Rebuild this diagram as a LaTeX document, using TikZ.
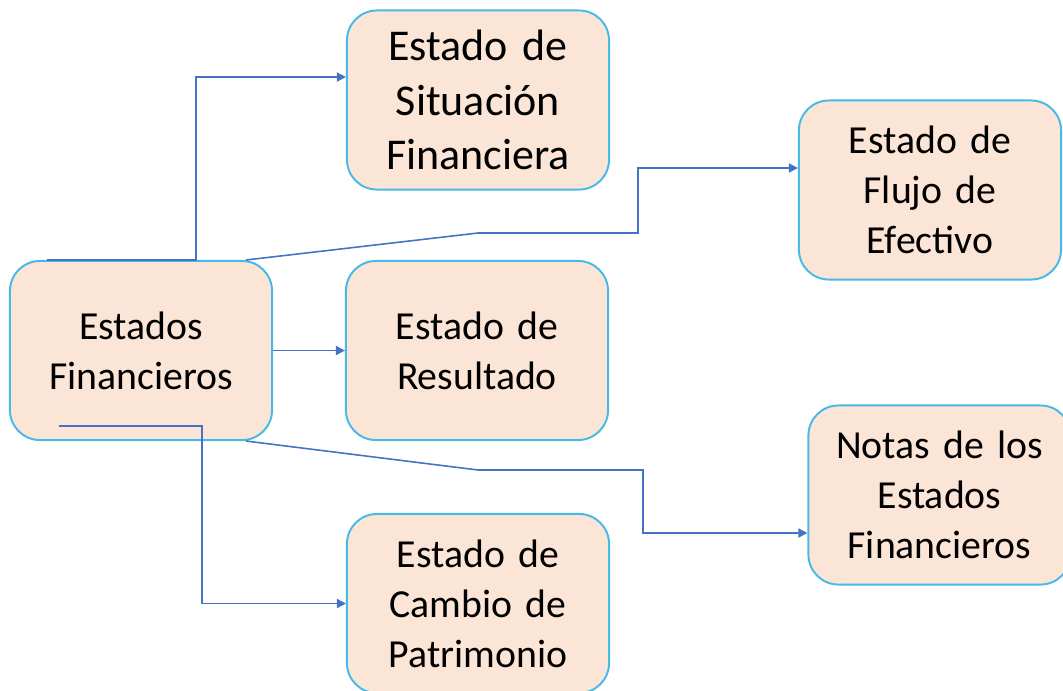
\documentclass[tikz,border=0pt]{standalone}
\usepackage{fontspec}
\setmainfont{Carlito}
\usepackage[rgb]{xcolor}
\usepackage{tikz}
\usetikzlibrary{arrows.meta,calc}
\definecolor{ef_peach}{HTML}{FBE5D6}
\definecolor{ef_cyan}{HTML}{45B9E8}
\definecolor{ef_blue}{HTML}{4472C4}

\tikzset{
    caja/.style={draw=ef_cyan, fill=ef_peach, line width=0.55pt, rounded corners=0.3cm,
        minimum width=2.62cm, minimum height=1.79cm, text width=2.5cm, align=center,
        font=\fontsize{11.3}{14.2}\selectfont, inner sep=0pt},
    enlace/.style={draw=ef_blue, line width=0.45pt, -{Triangle[length=2.6pt, width=2.6pt]}},
}

\begin{document}
\begin{tikzpicture}[x=0.01cm, y=-0.01cm]
            \useasboundingbox (0, 0) rectangle (1063, 690);

            \node[caja] (ef) at (141, 350.5) {Estados\\Financieros};
            \node[caja, font=\fontsize{12.5}{15.6}\selectfont] (esf) at (478, 100) {Estado de\\Situación\\Financiera};
            \node[caja] (efe) at (930, 190) {Estado de\\Flujo de\\Efectivo};
            \node[caja] (er) at (477, 350.5) {Estado de\\Resultado};
            \node[caja] (nef) at (939.5, 495) {Notas de los\\Estados\\Financieros};
            \node[caja] (ecp) at (478, 603.5) {Estado de\\Cambio de\\Patrimonio};

            \coordinate (fbend) at (478, 233);
            \coordinate (nbend) at (478, 470);

            \draw[enlace] ($(ef.north west)+(38,0)$) -- ++(149,0) |- ($(esf.west)+(0,-23)$);
            \draw[enlace] ($(ef.north east)+(-27,0)$) -- (fbend) -- ++(160,0) |- ($(efe.west)+(0,-22)$);
            \draw[enlace] (ef.east) -- (er.west);
            \draw[enlace] ($(ef.south east)+(-27,0)$) -- (nbend) -- ++(165,0) |- ($(nef.west)+(0,38)$);
            \draw[enlace] ($(ef.south west)+(50,-15)$) -- ++(143,0) |- (ecp.west);
            % the connector to Cambio de Patrimonio starts inside the box, as in the slide

        \end{tikzpicture}
\end{document}
